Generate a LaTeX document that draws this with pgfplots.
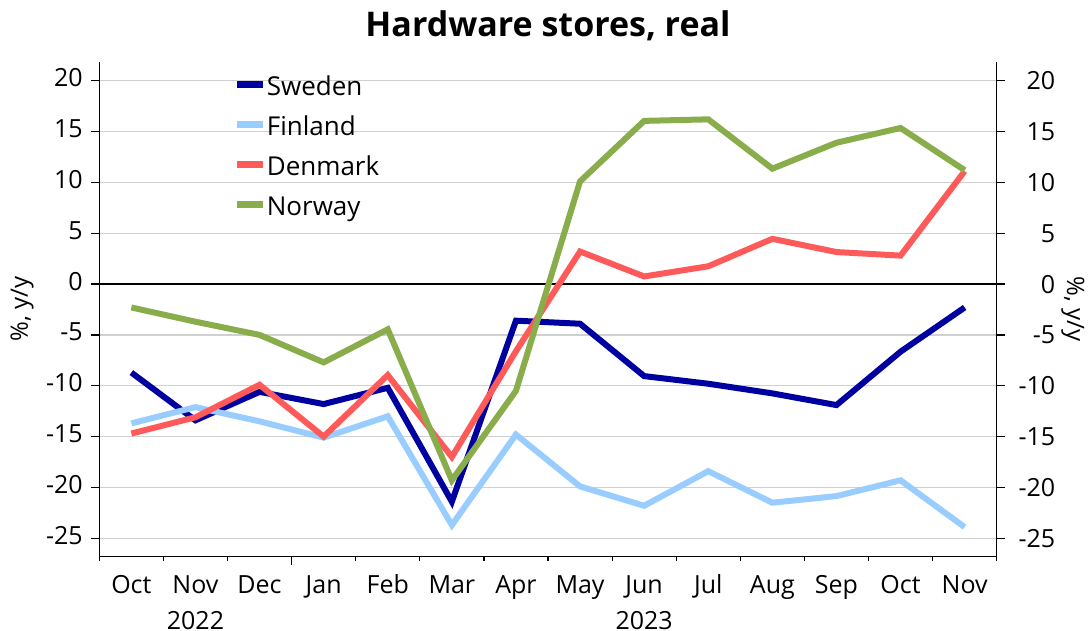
\documentclass[border=0pt]{standalone}
\usepackage{pgfplots}
\pgfplotsset{compat=1.18}
\usepackage{fontspec}
\setmainfont{Open Sans}

\definecolor{swe}{RGB}{0,0,160}
\definecolor{fin}{RGB}{153,204,255}
\definecolor{den}{RGB}{255,90,90}
\definecolor{nor}{RGB}{136,173,74}
\definecolor{gridgray}{RGB}{208,208,208}

\pgfplotsset{
  base/.style={
    scale only axis,
    width=897.4pt, height=495pt,
    at={(99.3pt,74.3pt)}, anchor=south west,
    xmin=-0.5, xmax=13.5,
    ymin=-26.81, ymax=21.87,
    ytick={-25,-20,...,20},
    yticklabels={-25,-20,-15,-10,-5,0,5,10,15,20},
    tick align=outside,
    major tick length=8pt,
    tick style={black, line width=1.2pt},
    axis line style={black, line width=1.5pt},
    ticklabel style={font=\fontsize{25}{30}\selectfont},
    label style={font=\fontsize{24}{28}\selectfont},
  }
}

\begin{document}
\begin{tikzpicture}
\useasboundingbox (0,0) rectangle (1090pt,631pt);

\begin{axis}[base,
  axis y line*=left,
  axis x line*=bottom,
  ymajorgrids,
  grid style={gridgray, line width=1.4pt},
  extra y ticks={0},
  extra y tick labels={},
  extra y tick style={grid style={black, line width=1.5pt}, major tick length=0pt},
  xtick={0,...,13},
  xticklabels={Oct,Nov,Dec,Jan,Feb,Mar,Apr,May,Jun,Jul,Aug,Sep,Oct,Nov},
  major x tick style={draw=none},
  minor xtick={-0.5,0.5,...,13.5},
  minor tick length=4pt,
  minor x tick style={black, line width=1.2pt},
  xticklabel style={yshift=-4pt},
  yticklabel style={xshift=-5pt},
  typeset ticklabels with strut,
  ylabel={\%, y/y},
  ylabel style={at={(axis description cs:-0.0861,0.5)}, anchor=center},
  clip=false,
  legend style={at={(axis description cs:0.1497,0.970)}, anchor=north west,
    draw=none, fill=none, font=\fontsize{26}{30}\selectfont,
    row sep=16pt, inner sep=0pt,
    nodes={inner sep=0pt, text height=19pt, text depth=5pt}},
  legend cell align=left,
  legend image code/.code={\draw[line width=7pt] (0pt,4pt) -- (26pt,4pt);},
  /tikz/every even column/.append style={column sep=3pt},
  every axis plot/.append style={line width=6pt},
]
\addplot[swe] coordinates {(0,-8.7)(1,-13.4)(2,-10.6)(3,-11.8)(4,-10.2)(5,-21.4)(6,-3.6)(7,-3.9)(8,-9.05)(9,-9.8)(10,-10.75)(11,-11.9)(12,-6.65)(13,-2.3)};
\addlegendentry{Sweden}
\addplot[fin] coordinates {(0,-13.7)(1,-12.1)(2,-13.5)(3,-15.1)(4,-13.0)(5,-23.7)(6,-14.8)(7,-19.9)(8,-21.8)(9,-18.4)(10,-21.5)(11,-20.85)(12,-19.3)(13,-23.9)};
\addlegendentry{Finland}
\addplot[den] coordinates {(0,-14.7)(1,-13.1)(2,-9.9)(3,-15.0)(4,-8.95)(5,-17.0)(6,-6.6)(7,3.2)(8,0.75)(9,1.75)(10,4.45)(11,3.15)(12,2.8)(13,11.1)};
\addlegendentry{Denmark}
\addplot[nor] coordinates {(0,-2.3)(1,-3.7)(2,-5.0)(3,-7.7)(4,-4.45)(5,-19.3)(6,-10.5)(7,10.1)(8,16.05)(9,16.2)(10,11.35)(11,13.9)(12,15.35)(13,11.2)};
\addlegendentry{Norway}
% year separator tick and year labels
\draw[black, line width=1.2pt] (axis cs:2.5,-26.81) -- ([yshift=-8pt]axis cs:2.5,-26.81);
\node[font=\fontsize{25}{30}\selectfont, anchor=base] at ([yshift=-73pt]axis cs:1,-26.81) {2022};
\node[font=\fontsize{25}{30}\selectfont, anchor=base] at ([yshift=-73pt]axis cs:8,-26.81) {2023};
\end{axis}

\begin{axis}[base,
  axis y line*=right,
  axis x line=none,
  yticklabel style={text width=47pt, align=right},
  ylabel={\%, y/y},
  ylabel style={at={(axis description cs:1.085,0.5)}, anchor=center, rotate=180},
]
\addplot[draw=none] coordinates {(0,0)};
\end{axis}

\node[font=\bfseries\fontsize{34}{40}\selectfont, anchor=base] at (548pt,594.3pt) {Hardware stores, real};
\end{tikzpicture}
\end{document}
